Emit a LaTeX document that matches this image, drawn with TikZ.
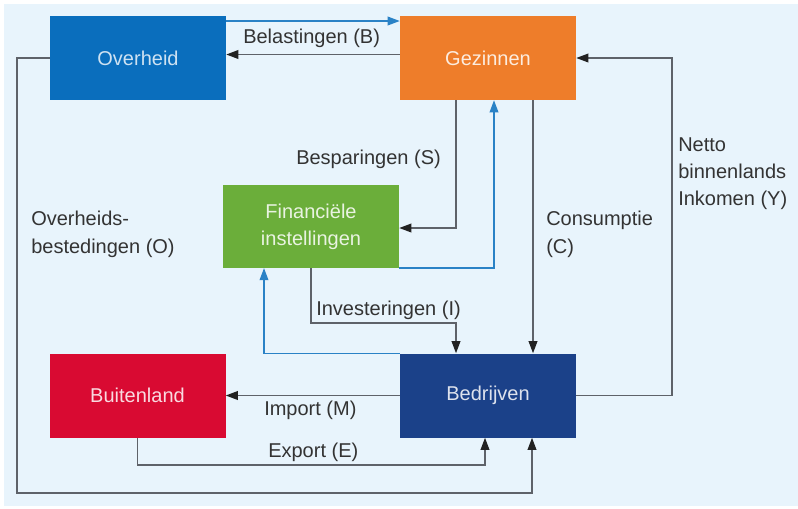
\documentclass[tikz,border=0pt]{standalone}
\usepackage{fontspec}
\setmainfont{Liberation Sans}
\usetikzlibrary{arrows.meta}
\definecolor{bgblue}{HTML}{E8F4FC}
\definecolor{ovhblue}{HTML}{0A6EBD}
\definecolor{gezorange}{HTML}{EE7D2A}
\definecolor{fingreen}{HTML}{6BAE3A}
\definecolor{buired}{HTML}{D90A32}
\definecolor{bednavy}{HTML}{1B4189}
\definecolor{flowblue}{HTML}{2A82C6}
\definecolor{flowgrey}{HTML}{5E6269}
\definecolor{tipblack}{HTML}{222222}
\definecolor{labelgrey}{HTML}{333333}

\begin{document}
\begin{tikzpicture}[x=0.75pt,y=0.75pt,yscale=-1,xscale=1,
    sector/.style={minimum width=132pt,minimum height=63pt,inner sep=0pt,align=center,font=\fontsize{15}{20}\selectfont},
    flow/.style={draw=flowgrey,line width=1pt,-{Triangle[length=9pt,width=6.5pt,color=tipblack]}},
    bflow/.style={draw=flowblue,line width=1pt,-{Triangle[length=9pt,width=6.5pt,color=flowblue]}},
    lbl/.style={inner sep=0pt,align=left,text=labelgrey,font=\fontsize{15}{20.5}\selectfont}]
                                \useasboundingbox (0,0) rectangle (798,508);
                                \fill [bgblue] (4,4) rectangle (798,506);
                                \node [sector,fill=ovhblue,text=white!80!ovhblue] (ovh) at (138,58) {Overheid};
                                \node [sector,fill=gezorange,text=white!85!gezorange] (gez) at (488,58) {Gezinnen};
                                \node [sector,fill=fingreen,text=white!85!fingreen,minimum height=62pt] (fin) at (311,226.5) {Financiële\\instellingen};
                                \node [sector,fill=buired,text=white!85!buired] (bui) at (137.5,395.5) {Buitenland};
                                \node [sector,fill=bednavy,text=white!85!bednavy] (bed) at (488,395.5) {Bedrijven};
                                \draw [bflow] (ovh.east |- 0,21) -- (gez.west |- 0,21);
                                \draw [flow] (gez.west |- 0,54.5) -- (ovh.east |- 0,54.5);
                                \draw [flow] (gez.south -| 456,0) |- (fin.east |- 0,228);
                                \draw [bflow] (fin.south east) -| (gez.south -| 494,0);
                                \draw [flow] (gez.south -| 533,0) -- (bed.north -| 533,0);
                                \draw [flow] (bed.east) -| (672,58) -- (gez.east);
                                \draw [flow] (fin.south) |- (456,323) -- (bed.north -| 456,0);
                                \draw [bflow] (bed.north west) -| (fin.south -| 264,0);
                                \draw [flow] (bed.west) -- (bui.east);
                                \draw [flow] (bui.south) |- (485,465) -- (bed.south -| 485,0);
                                \draw [flow] (ovh.west) -| (17,493) -| (bed.south -| 532,0);
                                \node [lbl,anchor=west] (lblB) at (243,38) {Belastingen (B)};
                                \node [lbl,anchor=west] (lblS) at (296,159) {Besparingen (S)};
                                \node [lbl,anchor=north west] (lblO) at (31,211) {Overheids-\\bestedingen (O)};
                                \node [lbl,anchor=north west] (lblC) at (546,211) {Consumptie\\(C)};
                                \node [lbl,anchor=north west] (lblY) at (678,137) {Netto\\binnenlands\\Inkomen (Y)};
                                \node [lbl,anchor=west] (lblI) at (316,310) {Investeringen (I)};
                                \node [lbl,anchor=west] (lblM) at (264,410) {Import (M)};
                                \node [lbl,anchor=west] (lblE) at (268,452) {Export (E)};
                            \end{tikzpicture}
\end{document}
